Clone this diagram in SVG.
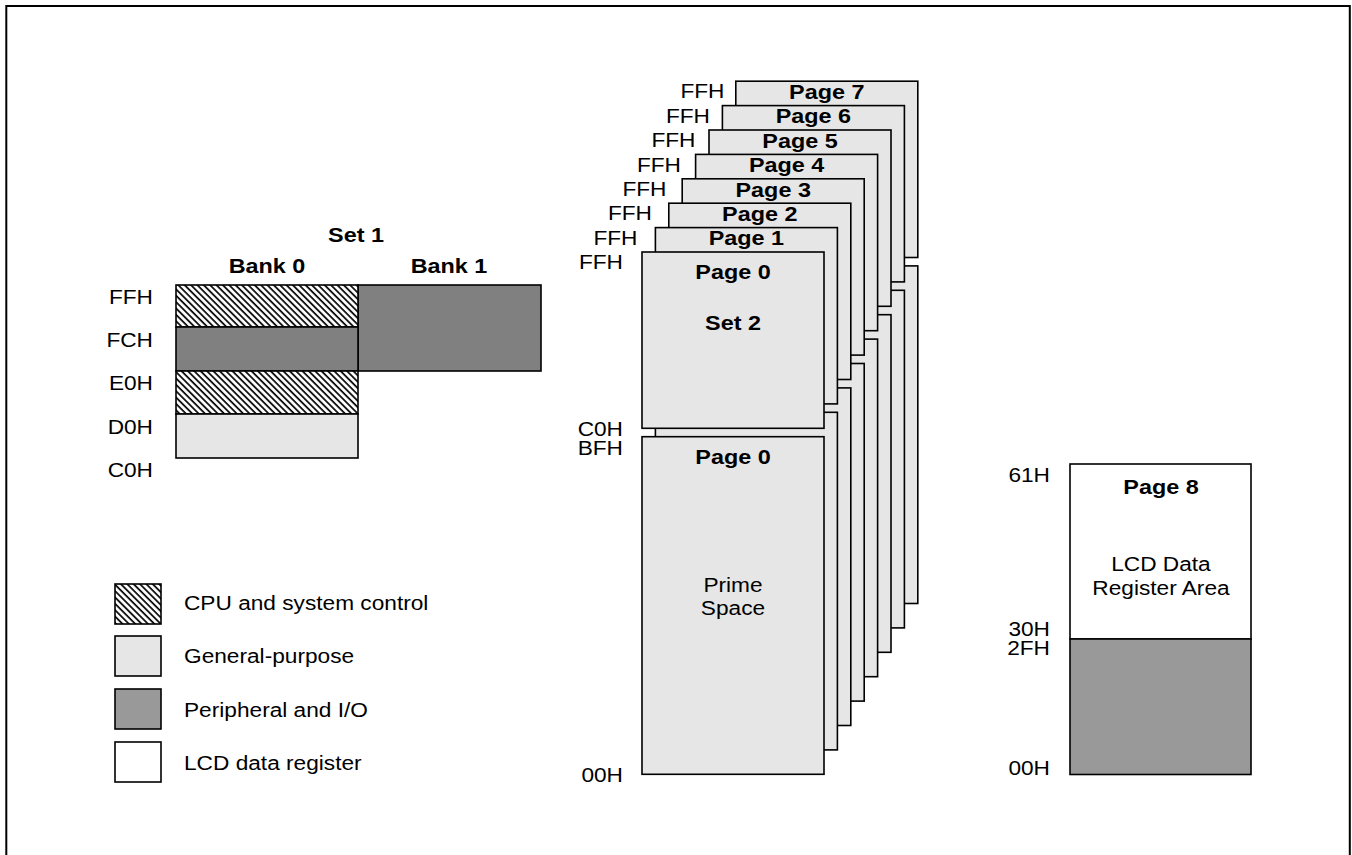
<svg xmlns="http://www.w3.org/2000/svg" width="1352" height="855" viewBox="0 0 1352 855">
<style>
text{font-family:"Liberation Sans",Arial,Helvetica,sans-serif;font-size:21px;fill:#000;transform-box:fill-box;transform-origin:left center;transform:scaleX(1.08)}
.b{font-weight:bold;font-size:20px;transform:scaleX(1.17)}
.c{text-anchor:middle;transform-origin:center}
.e{text-anchor:end;transform-origin:right center}
.pg{fill:#e6e6e6;stroke:#000;stroke-width:1.6}
.box{stroke:#000;stroke-width:1.6}
.hat{fill:url(#hatch)}
.lg{fill:#e6e6e6}
.dk{fill:#808080}
.md{fill:#999999}
.wh{fill:#ffffff}
</style>
<defs>
<pattern id="hatch" patternUnits="userSpaceOnUse" width="4.5" height="10" patternTransform="rotate(-45)">
<rect x="0" y="0" width="4.5" height="10" fill="#fff"/>
<line x1="1" y1="0" x2="1" y2="10" stroke="#000" stroke-width="1.7"/>
</pattern>
</defs>
<rect x="6.3" y="6" width="1343.5" height="900" fill="none" stroke="#000" stroke-width="2"/>

<g id="set1">
<text class="b c" x="356" y="242">Set 1</text>
<text class="b c" x="267" y="273">Bank 0</text>
<text class="b c" x="449" y="273">Bank 1</text>
<rect class="box dk" x="358" y="285" width="183" height="86"/>
<rect class="box hat" x="176" y="285" width="182" height="42"/>
<rect class="box dk" x="176" y="327" width="182" height="44"/>
<rect class="box hat" x="176" y="371" width="182" height="43"/>
<rect class="box lg" x="176" y="414" width="182" height="44"/>
<text class="e" x="153" y="304">FFH</text>
<text class="e" x="153" y="347">FCH</text>
<text class="e" x="153" y="390">E0H</text>
<text class="e" x="153" y="434">D0H</text>
<text class="e" x="153" y="477">C0H</text>
</g>

<g id="legend">
<rect class="box hat" x="115" y="584" width="46" height="40"/>
<rect class="box lg" x="115" y="636" width="46" height="40"/>
<rect class="box md" x="115" y="689" width="46" height="40"/>
<rect class="box wh" x="115" y="742" width="46" height="40"/>
<text x="184" y="610">CPU and system control</text>
<text x="184" y="663">General-purpose</text>
<text x="184" y="717">Peripheral and I/O</text>
<text x="184" y="770">LCD data register</text>
</g>

<g id="page7">
<rect class="pg" x="735.8" y="81.2" width="182" height="176.3"/>
<rect class="pg" x="735.8" y="265.9" width="182" height="337.6"/>
<text class="b c" x="826.8" y="99">Page 7</text>
<text class="e" x="724.5" y="98.5">FFH</text>
</g>
<g id="page6">
<rect class="pg" x="722.4" y="105.6" width="182" height="176.3"/>
<rect class="pg" x="722.4" y="290.3" width="182" height="337.6"/>
<text class="b c" x="813.4" y="123.4">Page 6</text>
<text class="e" x="710" y="122.9">FFH</text>
</g>
<g id="page5">
<rect class="pg" x="709" y="130" width="182" height="176.3"/>
<rect class="pg" x="709" y="314.7" width="182" height="337.6"/>
<text class="b c" x="800" y="147.8">Page 5</text>
<text class="e" x="695.5" y="147.3">FFH</text>
</g>
<g id="page4">
<rect class="pg" x="695.6" y="154.4" width="182" height="176.3"/>
<rect class="pg" x="695.6" y="339.1" width="182" height="337.6"/>
<text class="b c" x="786.6" y="172.2">Page 4</text>
<text class="e" x="681" y="171.7">FFH</text>
</g>
<g id="page3">
<rect class="pg" x="682.2" y="178.8" width="182" height="176.3"/>
<rect class="pg" x="682.2" y="363.5" width="182" height="337.6"/>
<text class="b c" x="773.2" y="196.6">Page 3</text>
<text class="e" x="666.5" y="196.1">FFH</text>
</g>
<g id="page2">
<rect class="pg" x="668.8" y="203.2" width="182" height="176.3"/>
<rect class="pg" x="668.8" y="387.9" width="182" height="337.6"/>
<text class="b c" x="759.8" y="221">Page 2</text>
<text class="e" x="652" y="220.5">FFH</text>
</g>
<g id="page1">
<rect class="pg" x="655.4" y="227.6" width="182" height="176.3"/>
<rect class="pg" x="655.4" y="412.3" width="182" height="337.6"/>
<text class="b c" x="746.4" y="245.4">Page 1</text>
<text class="e" x="637.5" y="244.9">FFH</text>
</g>
<g id="page0-set2">
<rect class="pg" x="642" y="252" width="182" height="176.3"/>
<text class="b c" x="733" y="279">Page 0</text>
<text class="b c" x="733" y="330">Set 2</text>
<text class="e" x="623" y="269.5">FFH</text>
<text class="e" x="623" y="436">C0H</text>
</g>
<g id="page0-prime">
<rect class="pg" x="642" y="436.7" width="182" height="337.6"/>
<text class="b c" x="733" y="464">Page 0</text>
<text class="c" x="733" y="592">Prime</text>
<text class="c" x="733" y="615">Space</text>
<text class="e" x="623" y="455">BFH</text>
<text class="e" x="623" y="782">00H</text>
</g>

<g id="page8">
<rect class="box wh" x="1070" y="464" width="181" height="175"/>
<rect class="box md" x="1070" y="639" width="181" height="135.5"/>
<text class="b c" x="1161" y="494">Page 8</text>
<text class="c" x="1161" y="571">LCD Data</text>
<text class="c" x="1161" y="595">Register Area</text>
<text class="e" x="1050" y="482">61H</text>
<text class="e" x="1050" y="636">30H</text>
<text class="e" x="1050" y="655">2FH</text>
<text class="e" x="1050" y="775">00H</text>
</g>
</svg>
